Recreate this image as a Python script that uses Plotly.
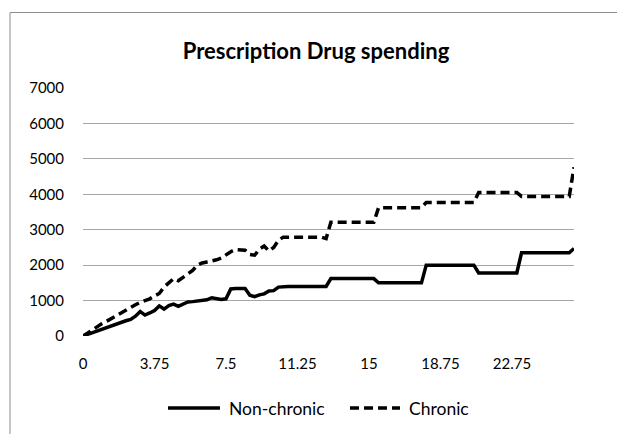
import plotly.graph_objects as go

# Time points (category axis)
periods = [
    "0", "0.25", "0.5", "0.75", "1", "1.25", "1.5", "1.75", "2", "2.25",
    "2.5", "2.75", "3", "3.25", "3.5", "3.75", "4", "4.25", "4.5", "4.75",
    "5", "5.25", "5.5", "5.75", "6", "6.25", "6.5", "6.75", "7", "7.25",
    "7.5", "7.75", "8", "8.25", "8.5", "8.75", "9", "9.25", "9.5", "9.75",
    "10", "10.25", "10.5", "10.75", "11", "11.25", "11.5", "11.75", "12", "12.25",
    "12.5", "12.75", "13", "13.25", "13.5", "13.75", "14", "14.25", "14.5", "14.75",
    "15", "15.25", "15.5", "15.75", "16", "16.25", "16.5", "16.75", "17", "17.25",
    "17.5", "17.75", "18", "18.25", "18.5", "18.75", "19", "19.25", "19.5", "19.75",
    "20", "20.25", "20.5", "20.75", "21", "21.25", "21.5", "21.75", "22", "22.25",
    "22.75", "23", "23.25", "23.5", "23.75", "24", "24.25", "24.5", "24.75", "25",
    "25.25", "25.5", "25.75", "26",
]

non_chronic = [
    0, 50, 100, 150, 200, 250, 300, 340, 390, 430,
    470, 560, 690, 590, 650, 720, 850, 760, 860, 900,
    840, 900, 960, 970, 980, 1000, 1020, 1080, 1060, 1030,
    1050, 1330, 1340, 1340, 1340, 1150, 1110, 1160, 1190, 1270,
    1280, 1380, 1400, 1400, 1400, 1400, 1400, 1400, 1400, 1400,
    1400, 1400, 1620, 1620, 1620, 1620, 1620, 1620, 1620, 1620,
    1620, 1620, 1500, 1500, 1500, 1500, 1500, 1500, 1500, 1500,
    1500, 1500, 2000, 2000, 2000, 2000, 2000, 2000, 2000, 2000,
    2000, 2000, 2000, 1780, 1780, 1780, 1780, 1780, 1780, 1780,
    1780, 1780, 2350, 2350, 2350, 2350, 2350, 2350, 2350, 2350,
    2350, 2350, 2350, 2470,
]

chronic = [
    0, 90, 170, 270, 350, 420, 500, 560, 640, 720,
    800, 880, 950, 1000, 1050, 1130, 1200, 1380, 1500, 1620,
    1560, 1650, 1760, 1850, 2000, 2060, 2090, 2110, 2150, 2200,
    2300, 2380, 2440, 2440, 2420, 2300, 2280, 2450, 2540, 2400,
    2500, 2700, 2790, 2790, 2790, 2790, 2790, 2790, 2790, 2790,
    2790, 2750, 3210, 3210, 3210, 3210, 3210, 3210, 3210, 3210,
    3210, 3210, 3620, 3620, 3620, 3620, 3620, 3620, 3620, 3620,
    3620, 3620, 3770, 3770, 3770, 3770, 3770, 3770, 3770, 3770,
    3770, 3770, 3770, 4050, 4050, 4050, 4050, 4050, 4050, 4050,
    4050, 4050, 3940, 3940, 3940, 3940, 3940, 3940, 3940, 3940,
    3940, 3940, 3940, 4760,
]

tick_labels = ["0", "3.75", "7.5", "11.25", "15", "18.75", "22.75"]

series_names = ["Non-chronic", "Chronic"]
series_dash = ["solid", "9px,5px"]

FONT = "Lato, Open Sans, sans-serif"
LINE_W = 3.5

fig = go.Figure()
for name, vals, dash in zip(series_names, [non_chronic, chronic], series_dash):
    fig.add_trace(go.Scatter(
        x=periods, y=vals, mode="lines", name=name,
        line=dict(color="black", width=LINE_W, dash=dash),
    ))

W, H = 617, 434
ML, MR, MT, MB = 83, 43, 88, 98
pw, ph = W - ML - MR, H - MT - MB


def px_x(px):
    return (px - ML) / pw


def px_y(py):
    return 1 - (py - MT) / ph


# Chart frame
shapes = [dict(
    type="rect", xref="paper", yref="paper",
    x0=px_x(10), x1=px_x(W + 20), y0=px_y(H + 20), y1=px_y(12.5),
    line=dict(color="#8c8c8c", width=1), fillcolor="rgba(0,0,0,0)",
    layer="below",
)]

# Legend below the plot: line sample followed by its label
legend_y = 408
legend_items = [(168, 220, 227), (350, 400, 407)]
annotations = []
for (lx0, lx1, tx), name, dash in zip(legend_items, series_names, series_dash):
    shapes.append(dict(
        type="line", xref="paper", yref="paper",
        x0=px_x(lx0), x1=px_x(lx1), y0=px_y(legend_y), y1=px_y(legend_y),
        line=dict(color="black", width=LINE_W, dash=dash),
    ))
    annotations.append(dict(
        text=name, xref="paper", yref="paper",
        x=px_x(tx), y=px_y(legend_y), xanchor="left", yanchor="middle",
        showarrow=False, font=dict(family=FONT, size=17.5, color="black"),
    ))

fig.update_layout(
    width=W, height=H,
    margin=dict(l=ML, r=MR, t=MT, b=MB, pad=0),
    paper_bgcolor="white", plot_bgcolor="white",
    font=dict(family=FONT, size=15, color="black"),
    title=dict(
        text="<b>Prescription Drug spending</b>",
        font=dict(family=FONT, size=22, color="black"),
        x=316 / W, xref="container", xanchor="center",
        y=1 - 51 / H, yref="container", yanchor="middle",
    ),
    showlegend=False,
    xaxis=dict(
        type="category", range=[0, len(periods) - 1],
        tickmode="array", tickvals=tick_labels, ticktext=tick_labels,
        showgrid=False, showline=False, zeroline=False, ticks="",
        ticklabelstandoff=17,
        tickfont=dict(family=FONT, size=15, color="black"),
    ),
    yaxis=dict(
        range=[0, 7000], dtick=1000, tick0=0,
        showgrid=True, gridcolor="#a6a6a6", gridwidth=1,
        zeroline=False, showline=False, ticks="",
        ticklabelstandoff=18,
        tickfont=dict(family=FONT, size=15, color="black"),
    ),
    shapes=shapes,
    annotations=annotations,
)

fig.write_html("out.html")
